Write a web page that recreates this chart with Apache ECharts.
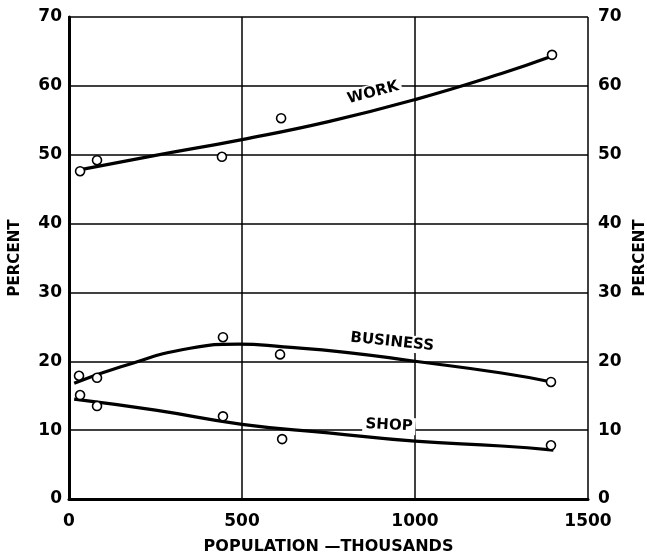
<!DOCTYPE html>
<html>
<head>
<meta charset="utf-8">
<script src="https://cdn.jsdelivr.net/npm/echarts@6/dist/echarts.min.js"></script>
<style>html,body{margin:0;padding:0;background:#fff}#c{width:647px;height:557px}</style>
</head>
<body>
<div id="c"></div>
<script>
// Observed points (population in thousands, percent)
var workPoints = [[32,47.6],[81,49.2],[442,49.7],[613,55.3],[1396,64.5]];
var businessPoints = [[29,17.9],[81,17.6],[445,23.5],[610,21.0],[1393,17.0]];
var shopPoints = [[32,15.1],[81,13.5],[445,12.0],[616,8.7],[1393,7.8]];
// Fitted curves
var workCurve = [[30,47.8],[250,49.9],[500,52.2],[750,54.8],[1000,58.0],[1250,61.8],[1395,64.3]];
var businessCurve = [[15,16.8],[150,19.2],[350,21.9],[490,22.5],[620,22.1],[800,21.3],[1000,20.0],[1250,18.3],[1395,17.0]];
var shopCurve = [[15,14.5],[250,12.9],[500,10.85],[750,9.6],[1000,8.4],[1250,7.7],[1400,7.1]];
// Curve labels [name, x, y, rotation]
var curveLabels = [["WORK",879,59.0,15],["BUSINESS",934,22.8,-6],["SHOP",925,10.7,-3]];
var xTicks = [0,500,1000,1500];
var yTicks = [0,10,20,30,40,50,60,70];

var font = "DejaVu Sans";
var chart = echarts.init(document.getElementById('c'), null, {renderer:'canvas'});

function yAxisDef(pos){
  return {
    type:'value', position:pos, min:0, max:70, interval:10,
    axisLine:{show:true, lineStyle:{color:'#000', width: pos==='left'?3:2}},
    axisTick:{show:false},
    splitLine:{show: pos==='left', lineStyle:{color:'#000', width:1.5}},
    axisLabel:{color:'#000', fontFamily:font, fontWeight:'bold', fontSize:17, margin: pos==='left'?7:10,
      formatter:function(v){return yTicks.indexOf(v)>=0 ? String(v) : '';}},
    name:'PERCENT', nameLocation:'middle', nameRotate:90,
    nameGap: pos==='left'?46:44,
    nameTextStyle:{color:'#000', fontFamily:font, fontWeight:'bold', fontSize:15}
  };
}
function curveSeries(data){
  return {type:'line', data:data, smooth:0.5, showSymbol:false, symbol:'none',
    lineStyle:{color:'#000', width:3.2}, z:3, silent:true};
}
function pointSeries(data){
  return {type:'scatter', data:data, symbol:'circle', symbolSize:9,
    itemStyle:{color:'#fff', borderColor:'#000', borderWidth:1.6, opacity:1}, z:5, silent:true};
}
var labelData = curveLabels.map(function(l){
  return {value:[l[1],l[2]], label:{show:true, formatter:l[0], rotate:l[3]}};
});

chart.setOption({
  animation:false,
  backgroundColor:'#fff',
  grid:{left:69, right:59, top:17, bottom:58, containLabel:false, outerBoundsMode:'none'},
  xAxis:[{
    type:'value', min:0, max:1500, interval:500,
    axisLine:{show:true, onZero:false, lineStyle:{color:'#000', width:3}},
    axisTick:{show:false},
    splitLine:{show:true, lineStyle:{color:'#000', width:1.5}},
    axisLabel:{color:'#000', fontFamily:font, fontWeight:'bold', fontSize:17, margin:14,
      formatter:function(v){return xTicks.indexOf(v)>=0 ? String(v) : '';}},
    name:'POPULATION \u2014THOUSANDS', nameLocation:'middle', nameGap:40,
    nameTextStyle:{color:'#000', fontFamily:font, fontWeight:'bold', fontSize:16}
  },{
    type:'value', position:'top', min:0, max:1500, interval:500,
    axisLine:{show:true, lineStyle:{color:'#000', width:2}},
    axisTick:{show:false}, axisLabel:{show:false}, splitLine:{show:false}
  }],
  yAxis:[yAxisDef('left'), yAxisDef('right')],
  series:[
    curveSeries(workCurve), curveSeries(businessCurve), curveSeries(shopCurve),
    pointSeries(workPoints), pointSeries(businessPoints), pointSeries(shopPoints),
    {type:'scatter', data:labelData, symbolSize:0, z:6, silent:true,
      itemStyle:{opacity:1},
      label:{position:'inside', color:'#000', fontFamily:font, fontWeight:'bold', fontSize:15,
        backgroundColor:'#fff', padding:[1,3]}}
  ]
});
</script>
</body>
</html>
